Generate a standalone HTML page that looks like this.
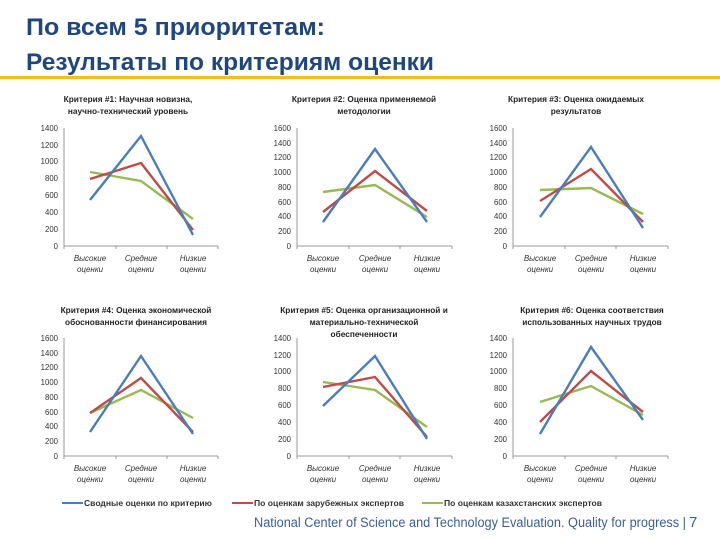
<!DOCTYPE html>
<html><head><meta charset="utf-8"><style>
html,body{margin:0;padding:0;background:#fff;width:720px;height:540px;overflow:hidden}
svg{display:block}
text{font-family:"Liberation Sans","DejaVu Sans",sans-serif}
.t{font-size:8.3px;font-weight:bold;fill:#222}
.k{font-size:7.8px;fill:#333;text-anchor:end}
.c{font-size:8px;fill:#333;font-style:italic;text-anchor:middle}
.ax{stroke:#999;stroke-width:1;fill:none}
.b{stroke:#4a7ebb;stroke-width:2.4;fill:none;stroke-linejoin:miter}
.r{stroke:#be4b48;stroke-width:2.4;fill:none}
.g{stroke:#98b954;stroke-width:2.4;fill:none}
</style></head><body>
<svg width="720" height="540" viewBox="0 0 720 540" xmlns="http://www.w3.org/2000/svg">
<text x="26" y="35" font-size="24" font-weight="bold" fill="#1f477f" textLength="299" lengthAdjust="spacingAndGlyphs">По всем 5 приоритетам:</text>
<text x="26" y="70" font-size="24" font-weight="bold" fill="#1f477f" textLength="408" lengthAdjust="spacingAndGlyphs">Результаты по критериям оценки</text>
<rect x="0" y="76" width="720" height="3" fill="#f2bf1c"/>

<!-- Chart 1 -->
<text class="t" x="128" y="102" text-anchor="middle">Критерия #1: Научная  новизна,</text>
<text class="t" x="128" y="114" text-anchor="middle">научно-технический  уровень</text>
<g class="k"><text x="58" y="249">0</text><text x="58" y="232">200</text><text x="58" y="215">400</text><text x="58" y="198">600</text><text x="58" y="181">800</text><text x="58" y="164">1000</text><text x="58" y="148">1200</text><text x="58" y="131">1400</text></g>
<path class="ax" d="M64 128V246H218M64 246v3M116 246v3M167 246v3M218 246v3"/>
<polyline class="g" points="90,172 141,181 193,219"/>
<polyline class="r" points="90,179 141,163 193,230"/>
<polyline class="b" points="90,200 141,136 193,235"/>
<g class="c"><text x="90" y="261">Высокие</text><text x="90" y="272">оценки</text><text x="141" y="261">Средние</text><text x="141" y="272">оценки</text><text x="193" y="261">Низкие</text><text x="193" y="272">оценки</text></g>

<!-- Chart 2 -->
<text class="t" x="364" y="102" text-anchor="middle">Критерия #2: Оценка  применяемой</text>
<text class="t" x="364" y="114" text-anchor="middle">методологии</text>
<g class="k"><text x="291" y="249">0</text><text x="291" y="234">200</text><text x="291" y="219">400</text><text x="291" y="205">600</text><text x="291" y="190">800</text><text x="291" y="175">1000</text><text x="291" y="160">1200</text><text x="291" y="146">1400</text><text x="291" y="131">1600</text></g>
<path class="ax" d="M297 128V246H452M297 246v3M349 246v3M400 246v3M452 246v3"/>
<polyline class="g" points="323,192 375,185 427,217"/>
<polyline class="r" points="323,212 375,171 427,211"/>
<polyline class="b" points="323,222 375,149 427,222"/>
<g class="c"><text x="323" y="261">Высокие</text><text x="323" y="272">оценки</text><text x="375" y="261">Средние</text><text x="375" y="272">оценки</text><text x="427" y="261">Низкие</text><text x="427" y="272">оценки</text></g>

<!-- Chart 3 -->
<text class="t" x="576" y="102" text-anchor="middle">Критерия #3: Оценка  ожидаемых</text>
<text class="t" x="576" y="114" text-anchor="middle">результатов</text>
<g class="k"><text x="507" y="249">0</text><text x="507" y="234">200</text><text x="507" y="219">400</text><text x="507" y="205">600</text><text x="507" y="190">800</text><text x="507" y="175">1000</text><text x="507" y="160">1200</text><text x="507" y="146">1400</text><text x="507" y="131">1600</text></g>
<path class="ax" d="M513 128V246H668M513 246v3M565 246v3M616 246v3M668 246v3"/>
<polyline class="g" points="540,190 591,188 643,214"/>
<polyline class="r" points="540,201 591,169 643,222"/>
<polyline class="b" points="540,217 591,147 643,228"/>
<g class="c"><text x="540" y="261">Высокие</text><text x="540" y="272">оценки</text><text x="591" y="261">Средние</text><text x="591" y="272">оценки</text><text x="643" y="261">Низкие</text><text x="643" y="272">оценки</text></g>

<!-- Chart 4 -->
<text class="t" x="136" y="313" text-anchor="middle">Критерия #4: Оценка экономической</text>
<text class="t" x="136" y="325" text-anchor="middle">обоснованности  финансирования</text>
<g class="k"><text x="58" y="459">0</text><text x="58" y="444">200</text><text x="58" y="429">400</text><text x="58" y="415">600</text><text x="58" y="400">800</text><text x="58" y="385">1000</text><text x="58" y="370">1200</text><text x="58" y="356">1400</text><text x="58" y="341">1600</text></g>
<path class="ax" d="M64 338V456H218M64 456v3M116 456v3M167 456v3M218 456v3"/>
<polyline class="g" points="90,413 141,390 193,418"/>
<polyline class="r" points="90,413 141,378 193,432"/>
<polyline class="b" points="90,432 141,356 193,434"/>
<g class="c"><text x="90" y="471">Высокие</text><text x="90" y="482">оценки</text><text x="141" y="471">Средние</text><text x="141" y="482">оценки</text><text x="193" y="471">Низкие</text><text x="193" y="482">оценки</text></g>

<!-- Chart 5 -->
<text class="t" x="364" y="313" text-anchor="middle">Критерия #5: Оценка организационной  и</text>
<text class="t" x="364" y="325" text-anchor="middle">материально-технической</text>
<text class="t" x="364" y="337" text-anchor="middle">обеспеченности</text>
<g class="k"><text x="291" y="459">0</text><text x="291" y="442">200</text><text x="291" y="425">400</text><text x="291" y="408">600</text><text x="291" y="391">800</text><text x="291" y="374">1000</text><text x="291" y="358">1200</text><text x="291" y="341">1400</text></g>
<path class="ax" d="M297 338V456H452M297 456v3M349 456v3M400 456v3M452 456v3"/>
<polyline class="g" points="323,382 375,390 427,427"/>
<polyline class="r" points="323,387 375,377 427,437"/>
<polyline class="b" points="323,406 375,356 427,439"/>
<g class="c"><text x="323" y="471">Высокие</text><text x="323" y="482">оценки</text><text x="375" y="471">Средние</text><text x="375" y="482">оценки</text><text x="427" y="471">Низкие</text><text x="427" y="482">оценки</text></g>

<!-- Chart 6 -->
<text class="t" x="592" y="313" text-anchor="middle">Критерия #6: Оценка соответствия</text>
<text class="t" x="592" y="325" text-anchor="middle">использованных  научных  трудов</text>
<g class="k"><text x="507" y="459">0</text><text x="507" y="442">200</text><text x="507" y="425">400</text><text x="507" y="408">600</text><text x="507" y="391">800</text><text x="507" y="374">1000</text><text x="507" y="358">1200</text><text x="507" y="341">1400</text></g>
<path class="ax" d="M513 338V456H668M513 456v3M565 456v3M616 456v3M668 456v3"/>
<polyline class="g" points="540,402 591,386 643,415"/>
<polyline class="r" points="540,422 591,371 643,412"/>
<polyline class="b" points="540,434 591,347 643,420"/>
<g class="c"><text x="540" y="471">Высокие</text><text x="540" y="482">оценки</text><text x="591" y="471">Средние</text><text x="591" y="482">оценки</text><text x="643" y="471">Низкие</text><text x="643" y="482">оценки</text></g>

<!-- Legend -->
<line x1="62" y1="503" x2="83" y2="503" stroke="#4a7ebb" stroke-width="2"/>
<text x="84" y="506" font-size="8" font-weight="bold" fill="#333" textLength="128" lengthAdjust="spacingAndGlyphs">Сводные оценки по критерию</text>
<line x1="232" y1="503" x2="253" y2="503" stroke="#be4b48" stroke-width="2"/>
<text x="254" y="506" font-size="8" font-weight="bold" fill="#333" textLength="150" lengthAdjust="spacingAndGlyphs">По оценкам зарубежных экспертов</text>
<line x1="422" y1="503" x2="443" y2="503" stroke="#98b954" stroke-width="2"/>
<text x="444" y="506" font-size="8" font-weight="bold" fill="#333" textLength="158" lengthAdjust="spacingAndGlyphs">По оценкам казахстанских экспертов</text>

<!-- Footer -->
<text x="254" y="527" font-size="13.5" fill="#3b5f95" textLength="432" lengthAdjust="spacingAndGlyphs">National Center of Science and Technology Evaluation. Quality for progress |</text>
<text x="689" y="527" font-size="15" fill="#3b5f95">7</text>
</svg>
</body></html>
